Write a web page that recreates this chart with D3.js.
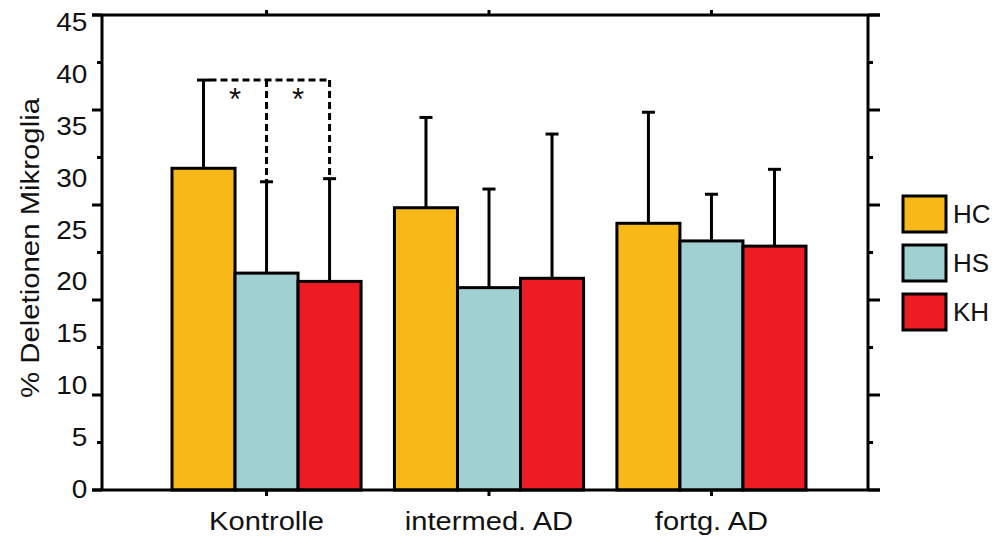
<!DOCTYPE html>
<html>
<head>
<meta charset="utf-8">
<script src="https://cdn.jsdelivr.net/npm/d3@7"></script>
<style>
    body { margin: 0; background: #fff; }
    text { font-family: "Liberation Sans", Arial, sans-serif; fill: #111; }
</style>
</head>
<body>
<svg width="994" height="538"></svg>
<script>
// data
const groups = ["Kontrolle", "intermed. AD", "fortg. AD"];
const series = ["HC", "HS", "KH"];
const colors = ["#F8B818", "#A0D0D1", "#ED1C24"];
const means = {
    HC: [31.0, 27.2, 25.7],
    HS: [20.9, 19.5, 24.0],
    KH: [20.1, 20.4, 23.5]
};
const errors = {
    HC: [8.5, 8.7, 10.7],
    HS: [8.8, 9.5, 4.5],
    KH: [9.9, 13.9, 7.4]
};
const yLabels = [0, 5, 10, 15, 20, 25, 30, 35, 40, 45];

const svg = d3.select("svg");
const frame = { left: 102, right: 868, top: 15, bottom: 490 };
const stretch = "scale(1.12,1)"; // the original lettering is a bit wide

const y = d3.scaleLinear().domain([0, 45]).range([frame.bottom, 23]);
const x0 = d3.scaleBand().domain(groups).range([172, 806]).paddingInner(0.15);
const x1 = d3.scaleBand().domain(series).range([0, x0.bandwidth()]);
const color = d3.scaleOrdinal().domain(series).range(colors);

// frame tick positions (11 evenly spaced marks, every other one long)
const tickPos = d3.scaleLinear().domain([0, 10]).range([frame.bottom, frame.top]);
const tickIdx = d3.range(11);

const rows = [];
groups.forEach((g, gi) => {
    series.forEach(s => {
        rows.push({ group: g, key: s, value: means[s][gi], err: errors[s][gi] });
    });
});

const cx = d => x0(d.group) + x1(d.key) + x1.bandwidth() / 2;

// bars
svg.append("g").selectAll("rect")
    .data(rows)
    .join("rect")
    .attr("x", d => x0(d.group) + x1(d.key))
    .attr("y", d => y(d.value))
    .attr("width", x1.bandwidth())
    .attr("height", d => y(0) - y(d.value))
    .attr("fill", d => color(d.key))
    .attr("stroke", "#000")
    .attr("stroke-width", 3);

// error bars
const eb = svg.append("g").attr("stroke", "#000").attr("stroke-width", 3);
eb.selectAll("line.v")
    .data(rows)
    .join("line")
    .attr("class", "v")
    .attr("x1", cx).attr("x2", cx)
    .attr("y1", d => y(d.value)).attr("y2", d => y(d.value + d.err));
eb.selectAll("line.c")
    .data(rows)
    .join("line")
    .attr("class", "c")
    .attr("x1", d => cx(d) - 6.5).attr("x2", d => cx(d) + 6.5)
    .attr("y1", d => y(d.value + d.err)).attr("y2", d => y(d.value + d.err));

// significance bracket (Kontrolle)
const k = rows.filter(d => d.group === groups[0]);
const topY = y(k[0].value + k[0].err);
const br = svg.append("g")
    .attr("stroke", "#000").attr("stroke-width", 3)
    .attr("stroke-dasharray", "7,4").attr("fill", "none");
br.append("line")
    .attr("x1", cx(k[0]) + 6).attr("x2", cx(k[2]))
    .attr("y1", topY).attr("y2", topY);
k.slice(1).forEach(d => {
    br.append("line")
        .attr("x1", cx(d)).attr("x2", cx(d))
        .attr("y1", topY).attr("y2", y(d.value + d.err));
});
[[k[0], k[1]], [k[1], k[2]]].forEach(([a, b]) => {
    svg.append("text")
        .attr("x", (cx(a) + cx(b)) / 2)
        .attr("y", topY + 30)
        .attr("text-anchor", "middle")
        .attr("font-size", 31)
        .text("*");
});

// frame
const ax = svg.append("g").attr("stroke", "#000").attr("stroke-width", 3).attr("fill", "none");
ax.append("line").attr("x1", frame.left).attr("x2", frame.left).attr("y1", frame.top).attr("y2", frame.bottom);
ax.append("line").attr("x1", frame.right).attr("x2", frame.right).attr("y1", frame.top).attr("y2", frame.bottom);
ax.append("line").attr("x1", frame.left - 10).attr("x2", frame.right + 12).attr("y1", frame.top).attr("y2", frame.top);
ax.append("line").attr("x1", frame.left - 10).attr("x2", frame.right + 12).attr("y1", frame.bottom).attr("y2", frame.bottom);

ax.selectAll("line.tl")
    .data(tickIdx)
    .join("line")
    .attr("class", "tl")
    .attr("x1", i => frame.left - (i % 2 ? 5 : 10)).attr("x2", frame.left)
    .attr("y1", i => tickPos(i)).attr("y2", i => tickPos(i));
ax.selectAll("line.tr")
    .data(tickIdx)
    .join("line")
    .attr("class", "tr")
    .attr("x1", frame.right).attr("x2", i => frame.right + (i % 2 ? 5 : 12))
    .attr("y1", i => tickPos(i)).attr("y2", i => tickPos(i));
ax.selectAll("line.tb")
    .data(groups)
    .join("line")
    .attr("class", "tb")
    .attr("x1", g => x0(g) + x0.bandwidth() / 2).attr("x2", g => x0(g) + x0.bandwidth() / 2)
    .attr("y1", frame.bottom).attr("y2", frame.bottom + 6);
ax.selectAll("line.tt")
    .data(groups)
    .join("line")
    .attr("class", "tt")
    .attr("x1", g => x0(g) + x0.bandwidth() / 2).attr("x2", g => x0(g) + x0.bandwidth() / 2)
    .attr("y1", frame.top).attr("y2", frame.top - 5);

// y labels
const yAxis = svg.append("g")
    .attr("transform", `translate(${frame.left},0)`)
    .call(d3.axisLeft(y).tickValues(yLabels).tickSize(0).tickPadding(13));
yAxis.select(".domain").remove();
yAxis.selectAll("text")
    .attr("font-size", 25)
    .attr("dy", "0.3em")
    .attr("transform", stretch)
    .style("font-family", "'Liberation Sans', Arial, sans-serif")
    .attr("fill", "#111");

// x labels
const xAxis = svg.append("g")
    .attr("transform", `translate(0,${frame.bottom})`)
    .call(d3.axisBottom(x0).tickSize(0).tickPadding(22));
xAxis.select(".domain").remove();
xAxis.selectAll("text")
    .attr("font-size", 26)
    .attr("transform", stretch)
    .style("font-family", "'Liberation Sans', Arial, sans-serif")
    .attr("fill", "#111");

// y title
svg.append("text")
    .attr("transform", "translate(39,248) rotate(-90)")
    .attr("text-anchor", "middle")
    .attr("font-size", 26)
    .attr("textLength", 300)
    .attr("lengthAdjust", "spacingAndGlyphs")
    .text("%  Deletionen Mikroglia");

// legend
const lg = svg.append("g").attr("transform", "translate(903,196)");
const item = lg.selectAll("g")
    .data(series)
    .join("g")
    .attr("transform", (d, i) => `translate(0,${i * 49})`);
item.append("rect")
    .attr("width", 43).attr("height", 36)
    .attr("fill", d => color(d))
    .attr("stroke", "#000").attr("stroke-width", 3);
item.append("text")
    .attr("x", 50).attr("y", 18).attr("dy", "0.36em")
    .attr("font-size", 26)
    .text(d => d);
</script>
</body>
</html>
